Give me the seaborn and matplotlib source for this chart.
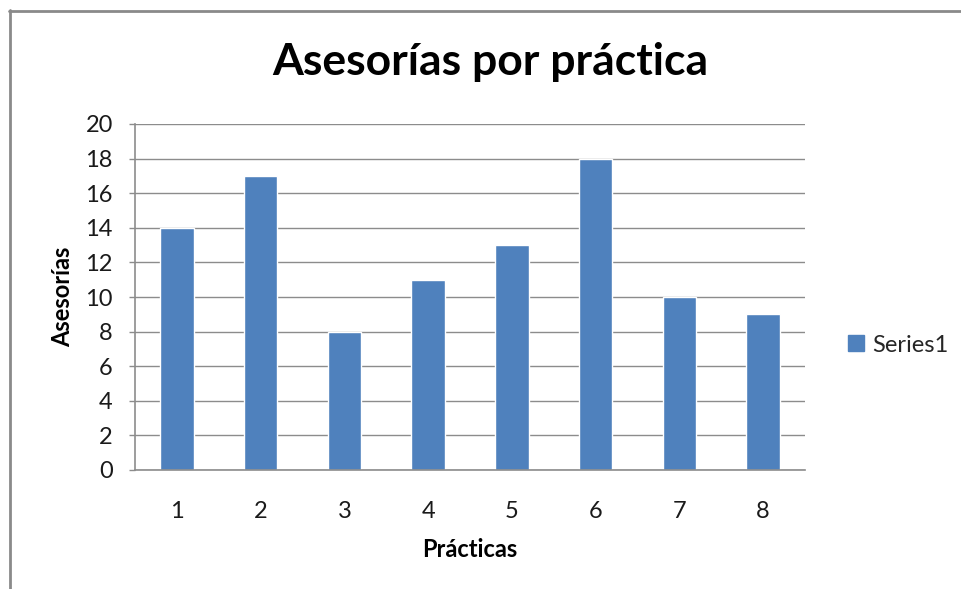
import matplotlib
matplotlib.use("Agg")
import matplotlib.pyplot as plt
from matplotlib.lines import Line2D
import seaborn as sns
import pandas as pd

practicas = ["1", "2", "3", "4", "5", "6", "7", "8"]
asesorias = [14, 17, 8, 11, 13, 18, 10, 9]
y_ticks = [0, 2, 4, 6, 8, 10, 12, 14, 16, 18, 20]
series_name = "Series1"

sns.set_theme(style="white")
plt.rcParams["font.family"] = ["Lato", "DejaVu Sans"]

df = pd.DataFrame({"Prácticas": practicas, "Asesorías": asesorias, "serie": series_name})

fig = plt.figure(figsize=(9.61, 5.89), dpi=100)
ax = fig.add_axes([135 / 961, 1 - 470 / 589, 670 / 961, 346 / 589])

bar_color = "#4F81BD"
sns.barplot(data=df, x="Prácticas", y="Asesorías", hue="serie", palette=[bar_color],
            width=0.4, ax=ax, legend=False, saturation=1)

ax.set_xlim(-0.5, len(practicas) - 0.5)
ax.set_ylim(0, 20)
ax.set_yticks(y_ticks)
ax.set_yticklabels([str(v) for v in y_ticks])
ax.yaxis.grid(True, color="#8C8C8C", linewidth=1)
ax.set_axisbelow(True)

for s in ["top", "right"]:
    ax.spines[s].set_visible(False)
for s in ["left", "bottom"]:
    ax.spines[s].set_color("#8C8C8C")
    ax.spines[s].set_linewidth(1.2)

ax.tick_params(axis="y", which="both", left=True, length=4, width=1, color="#8C8C8C",
               labelsize=17, pad=12, labelcolor="#1a1a1a")
ax.tick_params(axis="x", bottom=False, labelsize=17, pad=16, labelcolor="#1a1a1a")

ax.set_xlabel("Prácticas", fontsize=17, fontweight="bold", labelpad=12, color="black")
ax.set_ylabel("Asesorías", fontsize=17, fontweight="bold", labelpad=8, color="black")

fig.text(490 / 961, 1 - 62 / 589, "Asesorías por práctica", ha="center", va="center",
         fontsize=32, fontweight="bold", color="black")

# legend
handle = plt.Rectangle((0, 0), 1, 1, color=bar_color)
fig.legend([handle], [series_name], loc="center left",
           bbox_to_anchor=(827 / 961, 1 - 345 / 589), frameon=False, fontsize=17,
           handlelength=0.65, handleheight=0.65, handletextpad=0.35)

# chart frame
frame_color = "#8A8A8A"
fig.add_artist(Line2D([9.5 / 961, 9.5 / 961], [0, 1 - 10 / 589], transform=fig.transFigure,
                      color=frame_color, linewidth=2))
fig.add_artist(Line2D([9 / 961, 1], [1 - 10.5 / 589, 1 - 10.5 / 589], transform=fig.transFigure,
                      color=frame_color, linewidth=2))

fig.savefig("out.png", dpi=100, facecolor="white")
